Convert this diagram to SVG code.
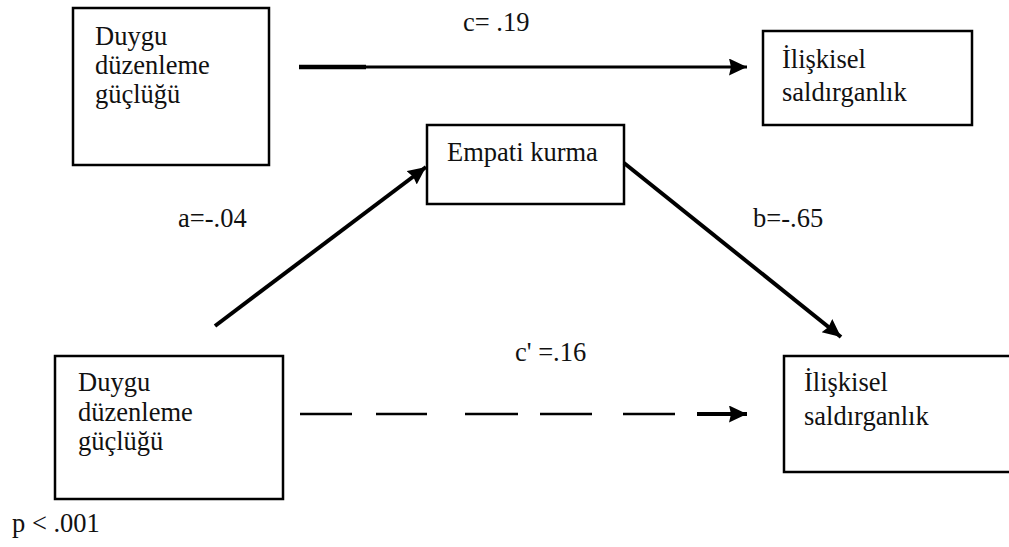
<svg xmlns="http://www.w3.org/2000/svg" width="1009" height="547" viewBox="0 0 1009 547">
<style>
.box{fill:#fff;stroke:#000;stroke-width:2.5}
.t{font-family:'Liberation Serif','Times New Roman',serif;font-size:26.5px;fill:#111}
.ln{stroke:#000;fill:none;stroke-linecap:butt}
</style>
<defs>
<marker id="ah" markerUnits="userSpaceOnUse" markerWidth="20" markerHeight="18" refX="18" refY="8.5" orient="auto" viewBox="0 0 20 18">
<path d="M0,0 L18,8.5 L0,17 L2,8.5 z" fill="#000"/>
</marker>
</defs>
<rect width="1009" height="547" fill="#fff"/>
<g id="n1">
<rect class="box" x="73" y="8" width="196" height="157"/>
<text class="t" x="95" y="45">Duygu</text>
<text class="t" x="95" y="74">düzenleme</text>
<text class="t" x="95" y="103">güçlüğü</text>
</g>
<g id="n2">
<rect class="box" x="763" y="31" width="209" height="94"/>
<text class="t" x="782" y="68">İlişkisel</text>
<text class="t" x="782" y="101">saldırganlık</text>
</g>
<g id="n3">
<rect class="box" x="427" y="125" width="197" height="79"/>
<text class="t" x="447" y="161">Empati kurma</text>
</g>
<g id="n4">
<rect class="box" x="55" y="356" width="228" height="143"/>
<text class="t" x="78" y="391">Duygu</text>
<text class="t" x="78" y="421">düzenleme</text>
<text class="t" x="78" y="450">güçlüğü</text>
</g>
<g id="n5">
<rect class="box" x="784" y="356" width="232" height="116"/>
<text class="t" x="804" y="391">İlişkisel</text>
<text class="t" x="804" y="425">saldırganlık</text>
</g>
<g id="connectors">
<line class="ln" x1="299" y1="67" x2="366" y2="67" stroke-width="4.5"/>
<line class="ln" x1="364" y1="67" x2="747" y2="67" stroke-width="3" marker-end="url(#ah)"/>
<line class="ln" x1="215" y1="326" x2="426" y2="167" stroke-width="4" marker-end="url(#ah)"/>
<line class="ln" x1="624" y1="163" x2="841" y2="337" stroke-width="4" marker-end="url(#ah)"/>
<g stroke="#000" stroke-width="2.5">
<line x1="300" y1="414" x2="352" y2="414"/>
<line x1="376" y1="414" x2="427" y2="414"/>
<line x1="465" y1="414" x2="518" y2="414"/>
<line x1="540" y1="414" x2="592" y2="414"/>
<line x1="623" y1="414" x2="675" y2="414"/>
</g>
<line class="ln" x1="697" y1="414" x2="747" y2="414" stroke-width="4" marker-end="url(#ah)"/>
</g>
<g id="labels">
<text class="t" x="463" y="31">c= .19</text>
<text class="t" x="178" y="227">a=-.04</text>
<text class="t" x="753" y="227">b=-.65</text>
<text class="t" x="515" y="361">c' =.16</text>
<text class="t" x="12" y="532">p &lt; .001</text>
</g>
</svg>
